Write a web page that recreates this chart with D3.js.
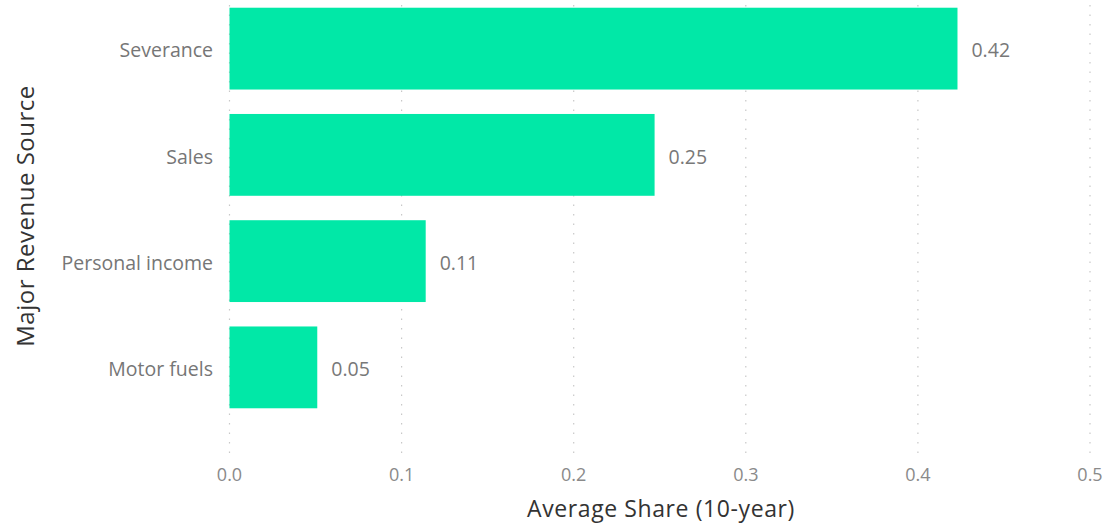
<!DOCTYPE html>
<html>
<head>
<meta charset="utf-8">
<script src="https://cdn.jsdelivr.net/npm/d3@7"></script>
<style>
  html, body { margin: 0; padding: 0; background: #ffffff; }
  svg { display: block; }
  text { font-family: "Open Sans", "Noto Sans", sans-serif; }
</style>
</head>
<body>
<svg id="chart" width="1110" height="526"></svg>
<script>
const categories = ["Severance", "Sales", "Personal income", "Motor fuels"];
const values = [0.423, 0.247, 0.114, 0.051];
const valueLabels = ["0.42", "0.25", "0.11", "0.05"];
const xTicks = [0, 0.1, 0.2, 0.3, 0.4, 0.5];
const xTickLabels = ["0.0", "0.1", "0.2", "0.3", "0.4", "0.5"];
const xTitle = "Average Share (10-year)";
const yTitle = "Major Revenue Source";

const svg = d3.select("#chart");
const x = d3.scaleLinear().domain([0, 0.5]).range([229.5, 1090]);
const y = d3.scaleBand().domain(categories).range([-4.5, 420.5]).paddingInner(0.23).paddingOuter(0.115);

// gridlines
svg.append("g").selectAll("line").data(xTicks).join("line")
  .attr("x1", d => x(d)).attr("x2", d => x(d))
  .attr("y1", 5).attr("y2", 453)
  .attr("stroke", "#c8c8c8").attr("stroke-width", 1.2)
  .attr("stroke-dasharray", "1.5,8");

// x tick labels
svg.append("g").selectAll("text").data(xTicks).join("text")
  .attr("x", d => x(d)).attr("y", 481)
  .attr("text-anchor", "middle")
  .attr("font-size", 18).attr("fill", "#8a8a8a")
  .text((d, i) => xTickLabels[i]);

// bars
svg.append("g").selectAll("rect").data(categories).join("rect")
  .attr("x", x(0)).attr("y", d => y(d))
  .attr("width", (d, i) => x(values[i]) - x(0))
  .attr("height", y.bandwidth())
  .attr("fill", "#01e8a7");

// category labels
svg.append("g").selectAll("text").data(categories).join("text")
  .attr("x", 213).attr("y", d => y(d) + y.bandwidth() / 2 + 2)
  .attr("dy", "0.35em").attr("text-anchor", "end")
  .attr("font-size", 19.5).attr("fill", "#767676")
  .text(d => d);

// value labels
svg.append("g").selectAll("text").data(categories).join("text")
  .attr("x", (d, i) => x(values[i]) + 14).attr("y", d => y(d) + y.bandwidth() / 2 + 2)
  .attr("dy", "0.35em").attr("text-anchor", "start")
  .attr("font-size", 19.5).attr("fill", "#787878")
  .text((d, i) => valueLabels[i]);

// axis titles
svg.append("text")
  .attr("x", 661).attr("y", 517)
  .attr("text-anchor", "middle")
  .attr("font-size", 23).attr("letter-spacing", 0.6).attr("fill", "#333333")
  .text(xTitle);

svg.append("text")
  .attr("transform", "translate(34,216) rotate(-90)")
  .attr("text-anchor", "middle")
  .attr("font-size", 24).attr("letter-spacing", 0.5).attr("fill", "#333333")
  .text(yTitle);
</script>
</body>
</html>
